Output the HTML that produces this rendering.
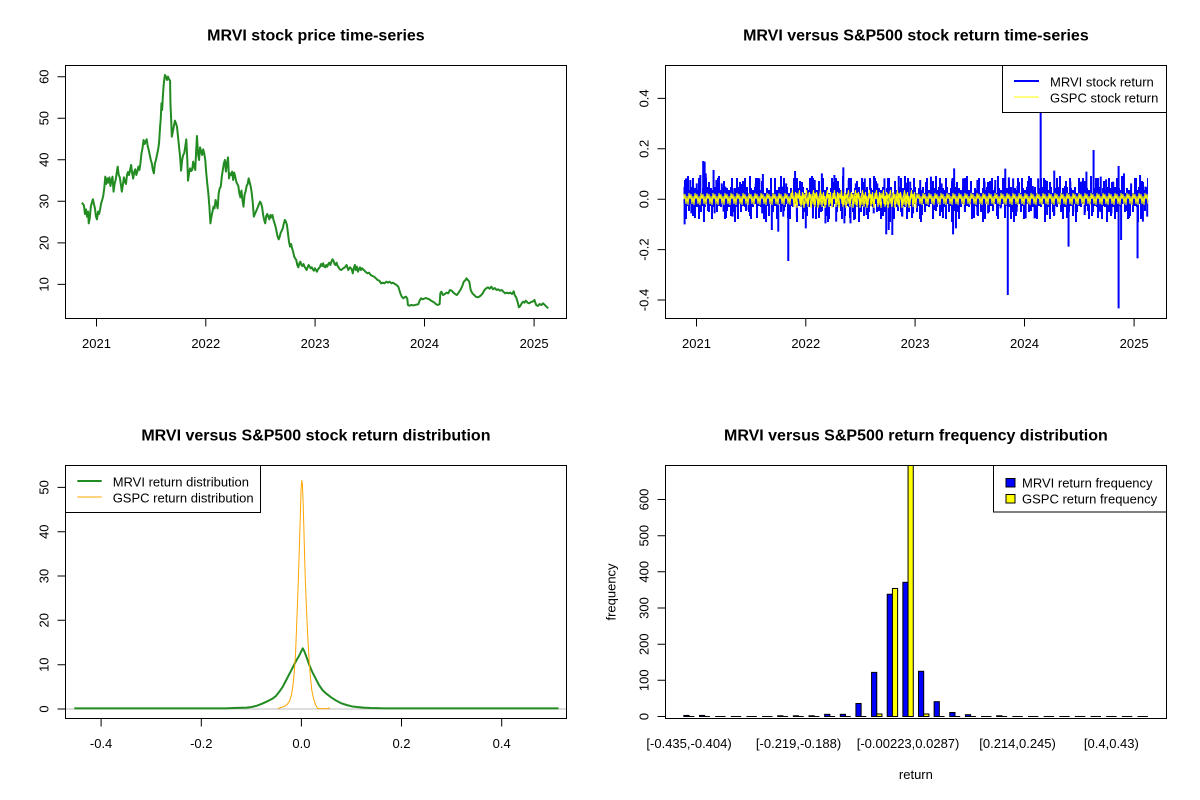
<!DOCTYPE html>
<html><head><meta charset="utf-8"><style>
html,body{margin:0;padding:0;background:#fff;}
svg{display:block;}
text{font-family:"Liberation Sans",Arial,sans-serif;fill:#000;}
.t{font-size:13px;}
.ti{font-size:16px;font-weight:bold;}
</style></head><body>
<svg width="1200" height="800" viewBox="0 0 1200 800" xmlns="http://www.w3.org/2000/svg">
<defs>
<pattern id="pa" patternUnits="userSpaceOnUse" x="0" y="0" width="8" height="800">
<path d="M1 190V207M3 187V204M5 193V212M7 188V206" stroke="#0000FF" stroke-width="2" fill="none"/>
</pattern>
<pattern id="pb" patternUnits="userSpaceOnUse" x="0" y="0" width="19" height="800">
<path d="M2 181V199M9 199V216M15 178V199M5 199V211" stroke="#0000FF" stroke-width="2" fill="none"/>
</pattern>
<pattern id="pc" patternUnits="userSpaceOnUse" x="0" y="0" width="31" height="800">
<path d="M6 176V199M13 199V218M22 199V222M27 182V199" stroke="#0000FF" stroke-width="2" fill="none"/>
</pattern>
<pattern id="pd" patternUnits="userSpaceOnUse" x="0" y="0" width="13" height="800">
<path d="M4 178V199M10 199V219" stroke="#0000FF" stroke-width="2" fill="none"/>
</pattern>
<pattern id="py" patternUnits="userSpaceOnUse" x="0" y="0" width="6" height="800">
<path d="M0 199L1 194L2 204L3 196L4 205L5 193L6 199" stroke="#FFFF00" stroke-width="1" fill="none"/>
</pattern>
<pattern id="py2" patternUnits="userSpaceOnUse" x="0" y="0" width="7" height="800">
<path d="M0 199L1.5 190L3 207L4.5 192L6 208L7 199" stroke="#FFFF00" stroke-width="1" fill="none"/>
</pattern>
</defs>
<rect width="1200" height="800" fill="#fff"/>

<!-- ============ PANEL 1 ============ -->
<text class="ti" x="315.9" y="40.5" text-anchor="middle">MRVI stock price time-series</text>
<g transform="matrix(0.3447 0 0 0.33333 39.79 60)">
<polyline fill="none" stroke="#228B22" stroke-width="2" vector-effect="non-scaling-stroke" stroke-linejoin="round" points="122,428 128,436 131,462 134,448 137,470 140,455 142,490 145,475 148,440 151,428 154,418 157,432 160,445 163,470 166,478 169,455 172,462 175,448 178,430 181,420 184,408 187,385 190,350 193,372 196,355 199,368 202,352 205,378 208,360 211,350 214,395 217,372 220,360 223,340 226,320 229,345 232,352 235,372 238,395 241,375 244,352 247,365 250,372 253,345 256,336 259,345 262,330 265,315 268,340 271,356 274,335 277,328 280,345 283,335 286,320 289,330 292,310 295,280 298,265 301,240 304,252 307,245 310,238 313,258 316,270 319,285 322,300 325,310 328,330 331,340 334,310 337,300 340,285 343,270 346,250 349,200 351,175 353,130 355,150 357,110 359,80 361,60 363,45 366,50 369,60 372,50 375,58 378,62 379,130 381,175 383,230 386,215 389,198 392,182 395,190 398,200 401,230 404,260 407,290 410,332 413,300 416,285 419,280 422,260 425,238 428,300 430,362 433,340 436,325 439,333 442,330 445,305 448,320 451,330 454,265 456,228 459,280 462,300 465,262 468,275 471,285 474,268 477,280 480,300 483,340 486,372 489,400 492,440 495,490 498,470 501,455 504,440 507,445 510,420 513,432 516,445 519,400 522,385 525,380 528,350 531,330 534,310 537,300 540,335 543,310 546,292 549,355 552,340 555,345 558,335 561,360 564,338 567,350 570,365 573,372 576,378 579,400 582,412 585,392 588,420 591,440 594,405 597,395 600,378 603,372 606,355 609,368 612,380 615,400 618,430 621,470 624,462 627,455 630,448 633,440 636,432 639,425 642,430 645,442 648,465 651,480 654,490 657,468 660,462 663,470 666,478 669,465 672,472 675,465 678,480 681,490 684,500 687,515 690,530 693,538 696,530 699,518 702,512 705,505 708,490 711,480 714,485 717,495 720,520 723,545 726,560 729,552 732,565 735,575 738,590 741,595 744,600 747,615 750,622 753,610 756,605 759,615 762,618 765,612 768,620 771,625 774,630 777,622 780,615 783,620 786,625 789,622 792,628 795,632 798,625 801,630 804,635 807,628 810,625 813,620 816,612 819,618 822,610 825,620 828,622 831,615 834,620 837,612 840,608 843,615 846,605 849,598 852,602 855,612 858,615 861,608 864,618 867,622 870,628 875,630 880,625 885,622 890,615 895,630 900,622 905,628 908,640 911,625 914,615 917,630 920,620 923,635 926,628 929,622 932,630 935,625 940,630 945,635 950,640 955,638 960,645 965,648 970,650 975,655 980,660 985,662 990,670 995,668 1000,670 1005,665 1010,668 1015,665 1020,670 1025,668 1030,672 1035,675 1040,680 1043,690 1046,700 1050,710 1055,715 1058,712 1062,710 1066,715 1068,735 1072,737 1078,735 1085,736 1092,734 1098,733 1102,722 1106,715 1110,718 1115,716 1120,714 1125,716 1130,718 1135,722 1140,725 1145,728 1150,733 1155,735 1160,732 1162,700 1165,695 1170,705 1175,702 1180,698 1185,700 1190,690 1195,692 1200,698 1205,702 1210,705 1215,698 1220,690 1225,680 1230,665 1235,660 1238,655 1242,660 1246,665 1250,690 1255,700 1260,705 1265,710 1270,712 1275,710 1280,706 1285,700 1290,690 1295,685 1300,682 1305,686 1310,680 1315,688 1320,684 1325,690 1330,688 1335,692 1340,690 1345,695 1350,700 1355,698 1360,700 1365,698 1370,702 1375,694 1378,706 1382,712 1386,725 1390,742 1394,738 1398,730 1402,725 1406,728 1410,722 1415,728 1420,730 1425,726 1430,725 1435,720 1440,735 1445,738 1450,732 1455,735 1460,730 1465,735 1470,740 1475,745"/>
</g>
<rect x="65.5" y="65.5" width="501" height="253" fill="none" stroke="#000" stroke-width="1"/>
<path d="M65.5 76.7V284.4M57.5 76.7H65.5M57.5 118.2H65.5M57.5 159.8H65.5M57.5 201.3H65.5M57.5 242.9H65.5M57.5 284.4H65.5" stroke="#000" stroke-width="1" fill="none"/>
<text class="t" text-anchor="middle" transform="translate(48.5,284.4) rotate(-90)">10</text>
<text class="t" text-anchor="middle" transform="translate(48.5,242.9) rotate(-90)">20</text>
<text class="t" text-anchor="middle" transform="translate(48.5,201.3) rotate(-90)">30</text>
<text class="t" text-anchor="middle" transform="translate(48.5,159.8) rotate(-90)">40</text>
<text class="t" text-anchor="middle" transform="translate(48.5,118.2) rotate(-90)">50</text>
<text class="t" text-anchor="middle" transform="translate(48.5,76.7) rotate(-90)">60</text>
<path d="M96.5 318.5H534.1M96.5 318.5V326.5M205.8 318.5V326.5M315.1 318.5V326.5M424.5 318.5V326.5M534.1 318.5V326.5" stroke="#000" stroke-width="1" fill="none"/>
<text class="t" x="96.5" y="348" text-anchor="middle">2021</text>
<text class="t" x="205.8" y="348" text-anchor="middle">2022</text>
<text class="t" x="315.1" y="348" text-anchor="middle">2023</text>
<text class="t" x="424.5" y="348" text-anchor="middle">2024</text>
<text class="t" x="534.1" y="348" text-anchor="middle">2025</text>

<!-- ============ PANEL 2 ============ -->
<text class="ti" x="915.9" y="40.5" text-anchor="middle">MRVI versus S&amp;P500 stock return time-series</text>
<rect x="683.5" y="170" width="464.5" height="60" fill="url(#pa)"/>
<rect x="683.5" y="170" width="464.5" height="60" fill="url(#pb)"/>
<rect x="683.5" y="170" width="464.5" height="60" fill="url(#pc)"/>
<rect x="683.5" y="170" width="464.5" height="60" fill="url(#pd)"/>
<g transform="matrix(0.35749 0 0 0.33333 619.9 60)">
<path fill="none" stroke="#0000FF" stroke-width="2" vector-effect="non-scaling-stroke" d="M182 418V360M185 418V355M197 418V360M205 418V380M215 418V370M225 418V345M233 418V303M237 418V305M240 418V340M250 418V385M262 418V330M270 418V360M285 418V370M295 418V380M310 418V390M320 418V385M340 418V372M380 418V370M390 418V355M400 418V342M420 418V395M455 418V380M465 418V370M490 418V333M510 418V380M537 418V350M545 418V360M565 418V340M600 418V345M625 418V322M640 418V360M660 418V370M685 418V355M700 418V360M720 418V370M740 418V355M750 418V360M780 418V348M800 418V368M812 418V365M840 418V360M870 418V350M900 418V370M930 418V355M935 418V325M960 418V355M1000 418V360M1020 418V365M1050 418V360M1078 418V326M1088 418V352M1100 418V355M1112 418V378M1140 418V380M1155 418V378M1170 418V355M1177 418V47M1190 418V360M1215 418V332M1245 418V378M1260 418V365M1290 418V365M1305 418V335M1325 418V270M1345 418V350M1360 418V358M1380 418V365M1395 418V318M1410 418V340M1430 418V370M1455 418V345M1470 418V380
M181 418V493M200 418V460M210 418V465M235 418V470M265 418V460M290 418V455M315 418V470M330 418V455M360 418V450M398 418V460M425 418V510M443 418V515M457 418V470M471 418V603M495 418V470M520 418V505M540 418V475M575 418V490M605 418V485M628 418V490M645 418V490M655 418V480M690 418V465M710 418V460M745 418V523M752 418V510M762 418V525M790 418V470M820 418V460M845 418V465M880 418V450M900 418V455M932 418V523M940 418V505M965 418V455M1000 418V465M1030 418V460M1065 418V445M1085 418V705M1110 418V455M1135 418V475M1160 418V475M1195 418V465M1215 418V465M1255 418V560M1275 418V455M1300 418V465M1340 418V455M1375 418V460M1395 418V745M1402 418V540M1448 418V595M1463 418V485M1475 418V470"/>
</g>
<rect x="683.5" y="180" width="464.5" height="40" fill="url(#py)"/>
<rect x="791.5" y="180" width="125" height="40" fill="url(#py2)"/>
<rect x="665.5" y="65.5" width="501" height="253" fill="none" stroke="#000" stroke-width="1"/>
<rect x="1002.5" y="65.5" width="164" height="47" fill="#fff" stroke="#000" stroke-width="1"/>
<path d="M1014 81H1039" stroke="#0000FF" stroke-width="2"/>
<path d="M1014 97H1039" stroke="#FFFF00" stroke-width="1"/>
<text class="t" x="1050" y="86.3">MRVI stock return</text>
<text class="t" x="1050" y="102.3">GSPC stock return</text>
<path d="M665.5 98.4V300M657.5 98.4H665.5M657.5 148.8H665.5M657.5 199.2H665.5M657.5 249.6H665.5M657.5 300H665.5" stroke="#000" stroke-width="1" fill="none"/>
<text class="t" text-anchor="middle" transform="translate(648.5,300) rotate(-90)">-0.4</text>
<text class="t" text-anchor="middle" transform="translate(648.5,249.6) rotate(-90)">-0.2</text>
<text class="t" text-anchor="middle" transform="translate(648.5,199.2) rotate(-90)">0.0</text>
<text class="t" text-anchor="middle" transform="translate(648.5,148.8) rotate(-90)">0.2</text>
<text class="t" text-anchor="middle" transform="translate(648.5,98.4) rotate(-90)">0.4</text>
<path d="M696.5 318.5H1134.1M696.5 318.5V326.5M805.8 318.5V326.5M915.1 318.5V326.5M1024.5 318.5V326.5M1134.1 318.5V326.5" stroke="#000" stroke-width="1" fill="none"/>
<text class="t" x="696.5" y="348" text-anchor="middle">2021</text>
<text class="t" x="805.8" y="348" text-anchor="middle">2022</text>
<text class="t" x="915.1" y="348" text-anchor="middle">2023</text>
<text class="t" x="1024.5" y="348" text-anchor="middle">2024</text>
<text class="t" x="1134.1" y="348" text-anchor="middle">2025</text>

<!-- ============ PANEL 3 ============ -->
<text class="ti" x="315.9" y="440.5" text-anchor="middle">MRVI versus S&amp;P500 stock return distribution</text>
<path d="M65.5 709H566.5" stroke="#BEBEBE" stroke-width="1"/>
<g transform="matrix(0.3447 0 0 0.33333 39.79 460)">
<polyline fill="none" stroke="#228B22" stroke-width="2" vector-effect="non-scaling-stroke" stroke-linejoin="round" points="100,745 540,745 560,744 600,743 615,741 630,737 645,731 660,724 675,716 685,708 695,695 705,680 715,660 725,640 735,620 745,600 752,588 758,575 763,565 768,575 775,595 782,615 790,635 800,655 810,675 820,690 830,700 845,712 860,722 875,730 890,735 905,739 920,741 940,743 960,744 1000,745 1505,745"/>
<polyline fill="none" stroke="#FFA500" stroke-width="1" vector-effect="non-scaling-stroke" stroke-linejoin="round" points="690,746 698,743 708,740 718,733 725,722 730,705 734,680 738,640 742,580 745,500 748,420 751,330 754,230 756,160 758,90 760,62 762,75 764,130 766,200 768,280 770,350 773,430 776,500 779,560 782,610 785,650 789,690 794,715 800,735 806,745 812,746 835,746 838,744 841,746"/>
</g>
<rect x="65.5" y="465.5" width="501" height="253" fill="none" stroke="#000" stroke-width="1"/>
<rect x="65.5" y="465.5" width="195" height="47" fill="#fff" stroke="#000" stroke-width="1"/>
<path d="M77.3 481H101.7" stroke="#228B22" stroke-width="2"/>
<path d="M77.3 497H101.7" stroke="#FFA500" stroke-width="1"/>
<text class="t" x="112.7" y="486.3">MRVI return distribution</text>
<text class="t" x="112.7" y="502.3">GSPC return distribution</text>
<path d="M65.5 487.4V709M57.5 487.4H65.5M57.5 531.7H65.5M57.5 576H65.5M57.5 620.3H65.5M57.5 664.7H65.5M57.5 709H65.5" stroke="#000" stroke-width="1" fill="none"/>
<text class="t" text-anchor="middle" transform="translate(48.5,709) rotate(-90)">0</text>
<text class="t" text-anchor="middle" transform="translate(48.5,664.7) rotate(-90)">10</text>
<text class="t" text-anchor="middle" transform="translate(48.5,620.3) rotate(-90)">20</text>
<text class="t" text-anchor="middle" transform="translate(48.5,576) rotate(-90)">30</text>
<text class="t" text-anchor="middle" transform="translate(48.5,531.7) rotate(-90)">40</text>
<text class="t" text-anchor="middle" transform="translate(48.5,487.4) rotate(-90)">50</text>
<path d="M101.1 718.5H501.7M101.1 718.5V726.5M201.3 718.5V726.5M301.4 718.5V726.5M401.5 718.5V726.5M501.7 718.5V726.5" stroke="#000" stroke-width="1" fill="none"/>
<text class="t" x="101.1" y="748" text-anchor="middle">-0.4</text>
<text class="t" x="201.3" y="748" text-anchor="middle">-0.2</text>
<text class="t" x="301.4" y="748" text-anchor="middle">0.0</text>
<text class="t" x="401.5" y="748" text-anchor="middle">0.2</text>
<text class="t" x="501.7" y="748" text-anchor="middle">0.4</text>

<!-- ============ PANEL 4 ============ -->
<text class="ti" x="915.9" y="440.5" text-anchor="middle">MRVI versus S&amp;P500 return frequency distribution</text>
<g stroke="#000" stroke-width="1">
<rect x="683.86" y="715.41" width="5.21" height="1.09" fill="#0000FF"/>
<rect x="699.50" y="715.41" width="5.21" height="1.09" fill="#0000FF"/>
<rect x="777.71" y="715.78" width="5.21" height="0.72" fill="#0000FF"/>
<rect x="793.35" y="715.78" width="5.21" height="0.72" fill="#0000FF"/>
<rect x="808.99" y="715.78" width="5.21" height="0.72" fill="#0000FF"/>
<rect x="824.64" y="714.33" width="5.21" height="2.17" fill="#0000FF"/>
<rect x="840.28" y="714.33" width="5.21" height="2.17" fill="#0000FF"/>
<rect x="855.92" y="703.48" width="5.21" height="13.02" fill="#0000FF"/>
<rect x="871.56" y="672.37" width="5.21" height="44.13" fill="#0000FF"/>
<rect x="887.21" y="594.25" width="5.21" height="122.25" fill="#0000FF"/>
<rect x="902.85" y="582.31" width="5.21" height="134.19" fill="#0000FF"/>
<rect x="918.49" y="671.29" width="5.21" height="45.21" fill="#0000FF"/>
<rect x="934.13" y="701.67" width="5.21" height="14.83" fill="#0000FF"/>
<rect x="949.77" y="712.52" width="5.21" height="3.98" fill="#0000FF"/>
<rect x="965.42" y="714.69" width="5.21" height="1.81" fill="#0000FF"/>
<rect x="996.70" y="715.78" width="5.21" height="0.72" fill="#0000FF"/>
<rect x="876.77" y="713.97" width="5.21" height="2.53" fill="#FFFF00"/>
<rect x="892.42" y="588.46" width="5.21" height="128.04" fill="#FFFF00"/>
<rect x="908.06" y="465.5" width="5.21" height="251" fill="#FFFF00"/>
<rect x="923.70" y="713.97" width="5.21" height="2.53" fill="#FFFF00"/>
<path fill="none" d="M689.07 716.5h5.21M704.71 716.5h5.21M715.14 716.5h10.42M730.79 716.5h10.42M746.43 716.5h10.42M762.07 716.5h10.42M782.92 716.5h5.21M798.56 716.5h5.21M814.20 716.5h5.21M829.85 716.5h5.21M845.49 716.5h5.21M861.13 716.5h5.21M939.34 716.5h5.21M954.98 716.5h5.21M970.63 716.5h5.21M981.06 716.5h10.42M1001.91 716.5h5.21M1012.34 716.5h10.42M1027.98 716.5h10.42M1043.63 716.5h10.42M1059.27 716.5h10.42M1074.91 716.5h10.42M1090.55 716.5h10.42M1106.19 716.5h10.42M1121.84 716.5h10.42M1137.48 716.5h10.42"/>
</g>
<rect x="665.5" y="465.5" width="501" height="253" fill="none" stroke="#000" stroke-width="1"/>
<rect x="993.5" y="465.5" width="173" height="46.5" fill="#fff" stroke="#000" stroke-width="1"/>
<rect x="1006" y="478.5" width="9" height="8.5" fill="#0000FF" stroke="#000" stroke-width="1"/>
<rect x="1006" y="494.5" width="9" height="8.5" fill="#FFFF00" stroke="#000" stroke-width="1"/>
<text class="t" x="1022" y="487.3">MRVI return frequency</text>
<text class="t" x="1022" y="503.3">GSPC return frequency</text>
<path d="M665.5 499.5V716.5M657.5 499.5H665.5M657.5 535.7H665.5M657.5 571.8H665.5M657.5 608H665.5M657.5 644.2H665.5M657.5 680.3H665.5M657.5 716.5H665.5" stroke="#000" stroke-width="1" fill="none"/>
<text class="t" text-anchor="middle" transform="translate(648.5,716.5) rotate(-90)">0</text>
<text class="t" text-anchor="middle" transform="translate(648.5,680.3) rotate(-90)">100</text>
<text class="t" text-anchor="middle" transform="translate(648.5,644.2) rotate(-90)">200</text>
<text class="t" text-anchor="middle" transform="translate(648.5,608) rotate(-90)">300</text>
<text class="t" text-anchor="middle" transform="translate(648.5,571.8) rotate(-90)">400</text>
<text class="t" text-anchor="middle" transform="translate(648.5,535.7) rotate(-90)">500</text>
<text class="t" text-anchor="middle" transform="translate(648.5,499.5) rotate(-90)">600</text>
<text class="t" x="689.07" y="748" text-anchor="middle">[-0.435,-0.404)</text>
<text class="t" x="798.56" y="748" text-anchor="middle">[-0.219,-0.188)</text>
<text class="t" x="908.06" y="748" text-anchor="middle">[-0.00223,0.0287)</text>
<text class="t" x="1017.55" y="748" text-anchor="middle">[0.214,0.245)</text>
<text class="t" x="1111.40" y="748" text-anchor="middle">[0.4,0.43)</text>
<text class="t" x="915.9" y="779" text-anchor="middle">return</text>
<text class="t" text-anchor="middle" transform="translate(615.5,592) rotate(-90)">frequency</text>
</svg>
</body></html>
